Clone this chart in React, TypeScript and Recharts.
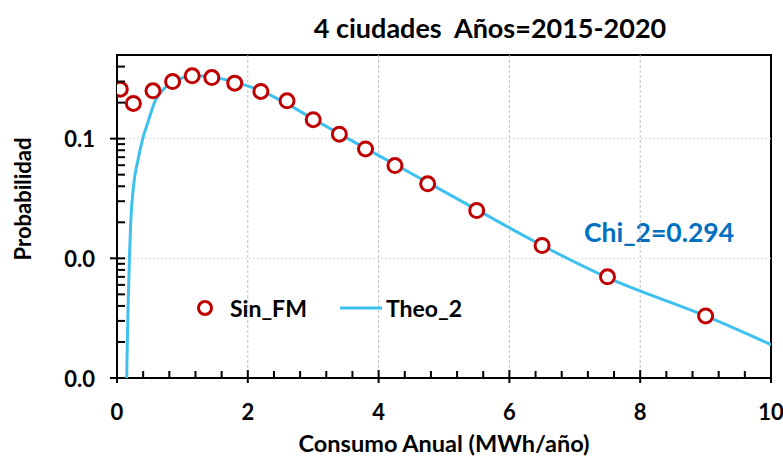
import {
  ComposedChart,
  Line,
  Scatter,
  XAxis,
  YAxis,
  ReferenceLine,
  Legend,
  Customized,
} from 'recharts'

const FONT = 'Lato, "Open Sans", sans-serif'

const obsX = [0.05, 0.25, 0.55, 0.85, 1.15, 1.45, 1.8, 2.2, 2.6, 3.0, 3.4, 3.8, 4.25, 4.75, 5.5, 6.5, 7.5, 9]
const obsY = [0.259, 0.197, 0.251, 0.3, 0.335, 0.324, 0.291, 0.248, 0.207, 0.144, 0.109, 0.082, 0.0596, 0.0419, 0.0251, 0.0128, 0.007, 0.0033]

const theoX = [0.148, 0.158, 0.17, 0.19, 0.21, 0.25, 0.32, 0.39, 0.48, 0.58, 0.73, 0.9, 1.1, 1.3, 1.5, 1.8, 2.2, 2.6, 3.0, 3.4, 3.8, 4.25, 4.75, 5.5, 6.5, 7.5, 9, 10]
const theoY = [0.001, 0.002, 0.004, 0.01, 0.02, 0.039, 0.066, 0.098, 0.141, 0.205, 0.265, 0.305, 0.33, 0.334, 0.325, 0.297, 0.252, 0.195, 0.146, 0.11, 0.083, 0.061, 0.043, 0.0255, 0.0128, 0.0069, 0.0033, 0.0019]

const xMajor = [0, 2, 4, 6, 8, 10]
const xTicks = [0, 0.4, 0.8, 1.2, 1.6, 2, 2.4, 2.8, 3.2, 3.6, 4, 4.4, 4.8, 5.2, 5.6, 6, 6.4, 6.8, 7.2, 7.6, 8, 8.4, 8.8, 9.2, 9.6, 10]
const yMajor = [0.001, 0.01, 0.1]
const yTicks = [
  0.001, 0.002, 0.003, 0.004, 0.005, 0.006, 0.007, 0.008, 0.009,
  0.01, 0.02, 0.03, 0.04, 0.05, 0.06, 0.07, 0.08, 0.09,
  0.1, 0.2, 0.3, 0.4, 0.5,
]

const obsData = obsX.map((x, i) => ({ x, y: obsY[i] }))
const theoData = theoX.map((x, i) => ({ x, y: theoY[i] }))

const RED = '#C00000'
const BLUE = '#3FC1F0'

const W = 783
const H = 459
const MARGIN = { top: 55, right: 12, bottom: 41, left: 0 }
const Y_AXIS_W = 117
const X_AXIS_H = 40

const isMajor = (list: number[], v: number) => list.some((m) => Math.abs(m - v) < 1e-9)

function XTick(props: any) {
  const { x, y, payload } = props
  const major = isMajor(xMajor, payload.value)
  return (
    <g>
      <rect x={x - 1} y={y - (major ? 8 : 7)} width={2} height={major ? 13 : 7} fill="#000" />
      {major && (
        <text x={x} y={y + 33} textAnchor="middle" dominantBaseline="central" fontFamily={FONT} fontWeight="bold" fontSize={22} fill="#000">
          {payload.value}
        </text>
      )}
    </g>
  )
}

function YTick(props: any) {
  const { x, y, payload } = props
  const major = isMajor(yMajor, payload.value)
  return (
    <g>
      <rect x={major ? x - 7 : x} y={y - 1} width={major ? 15 : 8} height={2} fill="#000" />
      {major && (
        <text x={x - 22} y={y} textAnchor="end" dominantBaseline="central" fontFamily={FONT} fontWeight="bold" fontSize={22} fill="#000">
          {payload.value.toFixed(1)}
        </text>
      )}
    </g>
  )
}

function Ring(props: any) {
  const { cx, cy } = props
  return <circle cx={cx} cy={cy} r={7} fill="#fff" stroke={RED} strokeWidth={3} />
}

function LegendBox() {
  return (
    <svg width={300} height={30} style={{ overflow: 'visible', display: 'block' }}>
      <circle cx={15} cy={15} r={6.5} fill="#fff" stroke={RED} strokeWidth={3} />
      <text x={40} y={15} dominantBaseline="central" fontFamily={FONT} fontWeight="bold" fontSize={23}>Sin_FM</text>
      <rect x={150} y={13.5} width={42} height={3} fill={BLUE} />
      <text x={196} y={15} dominantBaseline="central" fontFamily={FONT} fontWeight="bold" fontSize={23}>Theo_2</text>
    </svg>
  )
}

function Decor() {
  const left = MARGIN.left + Y_AXIS_W
  const top = MARGIN.top
  const right = W - MARGIN.right
  const bottom = H - MARGIN.bottom - X_AXIS_H
  return (
    <g fontFamily={FONT} fontWeight="bold">
      <rect x={left - 1} y={top - 1} width={right - left + 2} height={2} fill="#000" />
      <rect x={right - 1} y={top - 1} width={2} height={bottom - top + 2} fill="#000" />
      <rect x={left - 1} y={top - 1} width={2} height={bottom - top + 2} fill="#000" />
      <rect x={left - 1} y={bottom - 1} width={right - left + 2} height={2} fill="#000" />
      <text x={490} y={27} textAnchor="middle" dominantBaseline="central" fontSize={27} fill="#000" style={{ whiteSpace: 'pre' }}>
        4 ciudades  Años=2015-2020
      </text>
      <text x={659} y={232} textAnchor="middle" dominantBaseline="central" fontSize={26.5} fill="#0070C0">
        Chi_2=0.294
      </text>
      <text x={444} y={443} textAnchor="middle" dominantBaseline="central" fontSize={23.5} fill="#000">
        Consumo Anual (MWh/año)
      </text>
      <text x={22} y={199} textAnchor="middle" dominantBaseline="central" fontSize={22} fill="#000" transform="rotate(-90 22 199)">
        Probabilidad
      </text>
    </g>
  )
}

export default function App() {
  return (
    <div style={{ position: 'absolute', left: 0, top: 0, width: W, height: H, background: '#fff' }}>
      <ComposedChart width={W} height={H} margin={MARGIN}>
        {[2, 4, 6, 8].map((v) => (
          <ReferenceLine key={'vx' + v} x={v} stroke="#BFBFBF" strokeDasharray="3 2" strokeWidth={1} />
        ))}
        {[0.01, 0.1].map((v) => (
          <ReferenceLine key={'hy' + v} y={v} stroke="#D9D9D9" strokeDasharray="2 2" strokeWidth={1} />
        ))}
        <Line
          data={theoData}
          dataKey="y"
          type="monotone"
          stroke={BLUE}
          strokeWidth={3}
          dot={false}
          isAnimationActive={false}
          name="Theo_2"
        />
        <Scatter data={obsData} dataKey="y" shape={<Ring />} isAnimationActive={false} name="Sin_FM" />
        <XAxis
          type="number"
          dataKey="x"
          domain={[0, 10]}
          ticks={xTicks}
          interval={0}
          tick={<XTick />}
          tickSize={0}
          tickMargin={0}
          axisLine={false}
          height={X_AXIS_H}
          allowDataOverflow
        />
        <YAxis
          type="number"
          dataKey="y"
          scale="log"
          domain={[0.001, 0.5]}
          ticks={yTicks}
          interval={0}
          tick={<YTick />}
          tickSize={0}
          tickMargin={0}
          axisLine={false}
          width={Y_AXIS_W}
          allowDataOverflow
        />
        <Legend
          content={<LegendBox />}
          layout="horizontal"
          verticalAlign="middle"
          align="center"
          wrapperStyle={{ left: 190, top: 293, width: 300, height: 30 }}
        />
        <Customized component={<Decor />} />
      </ComposedChart>
    </div>
  )
}
